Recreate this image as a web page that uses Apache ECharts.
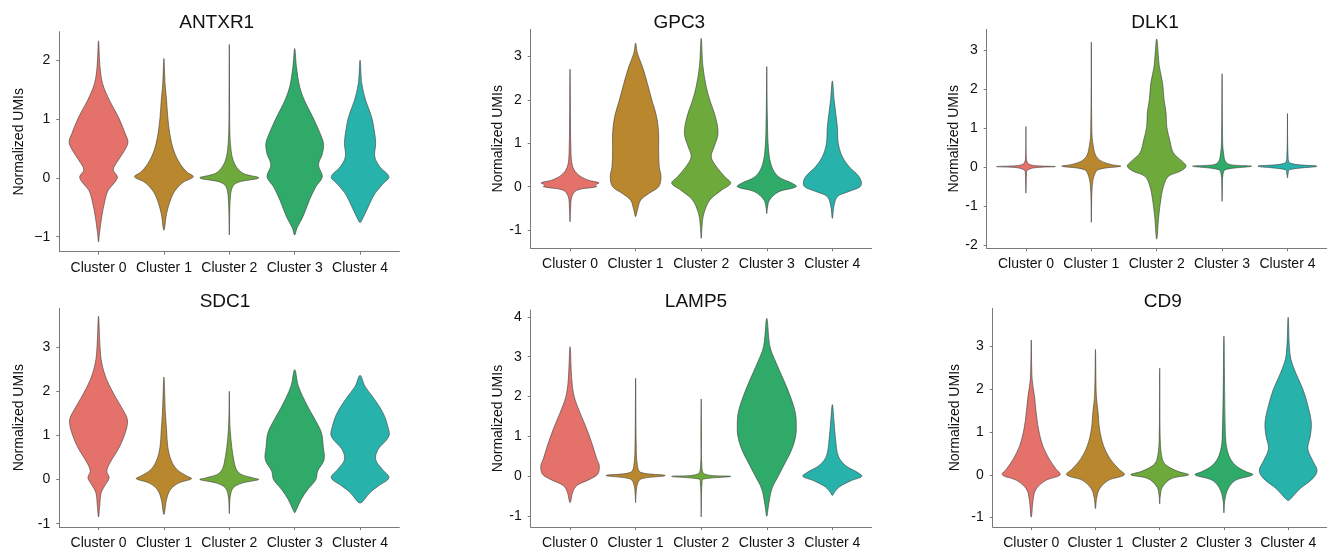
<!DOCTYPE html>
<html><head><meta charset="utf-8">
<script src="https://cdn.jsdelivr.net/npm/echarts@6/dist/echarts.min.js"></script>
<style>html,body{margin:0;padding:0;background:#fff}#c{width:1331px;height:550px}</style>
</head><body><div id="c"></div><script>
// ---------- DATA ----------
const categories = ['Cluster 0', 'Cluster 1', 'Cluster 2', 'Cluster 3', 'Cluster 4'];
const genes = ['ANTXR1', 'GPC3', 'DLK1', 'SDC1', 'LAMP5', 'CD9'];
const xTicks = [0, 1, 2, 3, 4];

// violin profiles: [value (Normalized UMIs), relative density width 0..1]
const antxr1 = [
  [[2.33,0],[1.89,0.05],[1.6,0.14],[1.32,0.37],[1.04,0.67],[0.75,0.91],[0.61,1.0],[0.47,0.89],[0.3,0.67],[0.14,0.5],[0.02,0.64],[-0.07,0.56],[-0.21,0.33],[-0.38,0.22],[-0.66,0.11],[-0.95,0.03],[-1.09,0]],
  [[2.03,0],[1.6,0.04],[1.32,0.09],[1.04,0.13],[0.75,0.2],[0.47,0.33],[0.24,0.55],[0.1,0.78],[0.02,1.0],[-0.07,0.67],[-0.21,0.39],[-0.38,0.22],[-0.61,0.09],[-0.89,0]],
  [[2.27,0],[1.2,0.01],[0.75,0.02],[0.47,0.06],[0.3,0.13],[0.16,0.28],[0.07,0.5],[0.0,1.0],[-0.07,0.33],[-0.15,0.11],[-0.38,0.03],[-0.97,0]],
  [[2.2,0],[1.89,0.06],[1.55,0.17],[1.32,0.33],[1.04,0.61],[0.75,0.87],[0.58,0.98],[0.41,0.94],[0.22,0.81],[0.02,0.94],[-0.15,0.72],[-0.38,0.5],[-0.66,0.28],[-0.85,0.08],[-0.97,0]],
  [[2.0,0],[1.6,0.06],[1.32,0.19],[1.04,0.39],[0.75,0.5],[0.58,0.53],[0.36,0.5],[0.19,0.67],[0.02,0.98],[-0.1,0.78],[-0.27,0.5],[-0.49,0.28],[-0.72,0.06],[-0.76,0]]
];
const gpc3 = [
  [[2.71,0],[2.0,0.01],[0.85,0.03],[0.46,0.09],[0.27,0.29],[0.15,0.63],[0.09,0.98],[0.04,0.86],[0.0,0.9],[-0.08,0.23],[-0.23,0.06],[-0.5,0.02],[-0.81,0]],
  [[3.31,0],[3.08,0.06],[2.77,0.23],[2.38,0.4],[2.0,0.55],[1.62,0.71],[1.23,0.78],[0.85,0.78],[0.46,0.8],[0.23,0.86],[0.0,0.78],[-0.15,0.46],[-0.31,0.17],[-0.54,0.06],[-0.69,0]],
  [[3.42,0],[2.77,0.06],[2.31,0.17],[2.0,0.29],[1.62,0.48],[1.23,0.57],[0.92,0.44],[0.69,0.34],[0.46,0.52],[0.23,0.8],[0.08,1.0],[-0.08,0.69],[-0.31,0.29],[-0.62,0.09],[-0.9,0.03],[-1.19,0]],
  [[2.77,0],[1.62,0.02],[0.85,0.06],[0.46,0.17],[0.23,0.4],[0.08,0.86],[0.0,1.0],[-0.12,0.4],[-0.31,0.09],[-0.5,0.02],[-0.62,0]],
  [[2.44,0],[2.0,0.06],[1.38,0.17],[1.0,0.2],[0.69,0.34],[0.46,0.57],[0.27,0.86],[0.12,0.98],[0.0,0.94],[-0.12,0.52],[-0.23,0.17],[-0.46,0.05],[-0.73,0]]
];
const dlk1 = [
  [[1.04,0],[0.3,0.01],[0.1,0.06],[0.04,0.25],[0.01,1.0],[-0.02,0.3],[-0.08,0.05],[-0.15,0.02],[-0.4,0.01],[-0.67,0]],
  [[3.2,0],[0.87,0.02],[0.44,0.09],[0.27,0.17],[0.15,0.34],[0.06,0.69],[0.02,1.0],[-0.07,0.23],[-0.24,0.09],[-0.5,0.03],[-0.9,0.01],[-1.42,0]],
  [[3.28,0],[2.58,0.09],[2.15,0.2],[1.73,0.25],[1.38,0.32],[1.04,0.34],[0.7,0.44],[0.36,0.57],[0.15,0.86],[0.02,1.0],[-0.11,0.8],[-0.24,0.4],[-0.5,0.23],[-0.84,0.14],[-1.26,0.07],[-1.85,0]],
  [[2.39,0],[0.6,0.02],[0.36,0.05],[0.15,0.11],[0.06,0.28],[0.02,1.0],[-0.07,0.11],[-0.2,0.03],[-0.5,0.01],[-0.88,0]],
  [[1.37,0],[0.3,0.02],[0.1,0.09],[0.02,1.0],[-0.07,0.07],[-0.18,0.02],[-0.28,0]]
];
const sdc1 = [
  [[3.7,0],[3.02,0.05],[2.64,0.11],[2.26,0.28],[1.89,0.56],[1.58,0.83],[1.36,0.98],[1.13,0.94],[0.75,0.72],[0.38,0.39],[0.19,0.28],[0.04,0.36],[-0.11,0.24],[-0.3,0.09],[-0.6,0.04],[-0.85,0]],
  [[2.32,0],[1.51,0.05],[1.13,0.09],[0.75,0.13],[0.45,0.24],[0.23,0.44],[0.08,0.78],[0.02,0.94],[-0.08,0.5],[-0.23,0.22],[-0.45,0.09],[-0.79,0]],
  [[2.0,0],[1.13,0.03],[0.38,0.17],[0.15,0.33],[0.04,0.78],[0.0,1.0],[-0.08,0.44],[-0.19,0.13],[-0.4,0.03],[-0.77,0]],
  [[2.49,0],[2.11,0.13],[1.66,0.44],[1.36,0.69],[1.06,0.91],[0.75,0.97],[0.45,1.0],[0.19,0.78],[0.0,0.72],[-0.23,0.44],[-0.45,0.22],[-0.68,0.06],[-0.75,0]],
  [[2.36,0],[2.11,0.17],[1.81,0.5],[1.51,0.78],[1.21,0.94],[0.98,0.98],[0.68,0.61],[0.45,0.53],[0.23,0.76],[0.04,0.98],[-0.15,0.61],[-0.3,0.33],[-0.49,0.1],[-0.53,0]]
];
const lamp5 = [
  [[3.25,0],[2.42,0.06],[2.0,0.14],[1.59,0.34],[1.18,0.57],[0.76,0.77],[0.43,0.91],[0.27,0.99],[0.06,0.94],[-0.07,0.68],[-0.23,0.23],[-0.4,0.09],[-0.66,0]],
  [[2.46,0],[0.8,0.02],[0.27,0.06],[0.1,0.17],[0.02,1.0],[-0.07,0.17],[-0.23,0.05],[-0.45,0.015],[-0.66,0]],
  [[1.94,0],[0.9,0.01],[0.3,0.02],[0.06,0.11],[0.0,1.0],[-0.07,0.06],[-0.15,0.03],[-0.4,0.012],[-1.02,0]],
  [[3.96,0],[3.25,0.11],[2.84,0.32],[2.42,0.57],[2.0,0.8],[1.59,0.97],[1.26,1.0],[1.01,0.98],[0.68,0.85],[0.35,0.63],[0.02,0.4],[-0.32,0.17],[-0.73,0.06],[-1.0,0]],
  [[1.8,0],[1.34,0.06],[0.93,0.11],[0.51,0.2],[0.27,0.45],[0.1,0.85],[0.0,1.0],[-0.11,0.63],[-0.27,0.23],[-0.4,0.07],[-0.48,0]]
];
const cd9 = [
  [[3.15,0],[2.24,0.03],[1.85,0.11],[1.46,0.17],[1.07,0.25],[0.68,0.4],[0.37,0.62],[0.14,0.85],[0.0,1.0],[-0.13,0.51],[-0.33,0.17],[-0.56,0.07],[-0.99,0]],
  [[2.93,0],[1.85,0.03],[1.46,0.09],[1.07,0.14],[0.68,0.28],[0.37,0.51],[0.14,0.8],[0.0,1.0],[-0.13,0.45],[-0.33,0.14],[-0.55,0.04],[-0.79,0]],
  [[2.49,0],[0.8,0.02],[0.37,0.09],[0.22,0.23],[0.08,0.63],[0.0,1.0],[-0.09,0.4],[-0.29,0.09],[-0.5,0.02],[-0.68,0]],
  [[3.24,0],[0.84,0.06],[0.45,0.17],[0.22,0.4],[0.08,0.74],[0.0,1.0],[-0.13,0.4],[-0.33,0.14],[-0.6,0.03],[-0.89,0]],
  [[3.68,0],[2.79,0.07],[2.4,0.25],[2.0,0.51],[1.62,0.68],[1.23,0.8],[0.92,0.77],[0.61,0.68],[0.33,0.85],[0.1,1.0],[-0.09,0.85],[-0.33,0.4],[-0.56,0.09],[-0.6,0]]
];

// y tick values and labels per gene
const antxr1Ticks = [-1, 0, 1, 2];       const antxr1Labels = ['\u22121', '0', '1', '2'];
const gpc3Ticks = [-1, 0, 1, 2, 3];      const gpc3Labels = ['-1', '0', '1', '2', '3'];
const dlk1Ticks = [-2, -1, 0, 1, 2, 3];  const dlk1Labels = ['-2', '-1', '0', '1', '2', '3'];
const sdc1Ticks = [-1, 0, 1, 2, 3];      const sdc1Labels = ['-1', '0', '1', '2', '3'];
const lamp5Ticks = [-1, 0, 1, 2, 3, 4];  const lamp5Labels = ['-1', '0', '1', '2', '3', '4'];
const cd9Ticks = [-1, 0, 1, 2, 3];       const cd9Labels = ['-1', '0', '1', '2', '3'];

const yName = 'Normalized UMIs';

// ---------- STYLE / LAYOUT ----------
const colors = ['#E4716A', '#B8872E', '#6EA93C', '#2FAA68', '#27B2AC'];
const FONT = '"Liberation Sans", Arial, Helvetica, sans-serif';
const HALF = 0.45;
const panels = [
  {prof: antxr1, ticks: antxr1Ticks, labels: antxr1Labels, yMin: -1.255, yMax: 2.486, left: 59.3, top: 31.7, width: 340, height: 220, tx: 216.7, ty: 13.5, gap: 33},
  {prof: gpc3, ticks: gpc3Ticks, labels: gpc3Labels, yMin: -1.42, yMax: 3.63, left: 530.7, top: 29.3, width: 341, height: 219, tx: 679.3, ty: 13.5, gap: 25},
  {prof: dlk1, ticks: dlk1Ticks, labels: dlk1Labels, yMin: -2.085, yMax: 3.53, left: 986.7, top: 29.3, width: 340, height: 219, tx: 1155, ty: 13.5, gap: 25},
  {prof: sdc1, ticks: sdc1Ticks, labels: sdc1Labels, yMin: -1.075, yMax: 3.88, left: 59.3, top: 308.3, width: 340, height: 219, tx: 225, ty: 292.5, gap: 33},
  {prof: lamp5, ticks: lamp5Ticks, labels: lamp5Labels, yMin: -1.27, yMax: 4.17, left: 530.7, top: 310, width: 341, height: 218.3, tx: 696, ty: 292.5, gap: 25},
  {prof: cd9, ticks: cd9Ticks, labels: cd9Labels, yMin: -1.22, yMax: 3.89, left: 992.7, top: 308.3, width: 334, height: 220, tx: 1162.7, ty: 292.5, gap: 31}
];

const chart = echarts.init(document.getElementById('c'), null, {renderer: 'canvas'});
const axisColor = '#7a7a7a';
const option = {animation: false, backgroundColor: '#fff', title: [], grid: [], xAxis: [], yAxis: [], series: []};

panels.forEach((p, k) => {
  option.title.push({text: genes[k], left: p.tx, top: p.ty, textAlign: 'center', padding: 0,
    textStyle: {fontFamily: FONT, fontSize: 19, fontWeight: 'normal', color: '#111'}});
  option.grid.push({left: p.left, top: p.top, width: p.width, height: p.height, containLabel: false});
  option.xAxis.push({type: 'value', gridIndex: k, min: -0.6, max: 4.6, position: 'bottom',
    axisLine: {show: true, onZero: false, lineStyle: {color: axisColor, width: 1}},
    axisTick: {show: true, customValues: xTicks, length: 3, lineStyle: {color: axisColor}},
    axisLabel: {show: true, customValues: xTicks, margin: 9, fontFamily: FONT, fontSize: 14, color: '#111',
      formatter: v => categories[Math.round(v)]},
    splitLine: {show: false}});
  option.yAxis.push({type: 'value', gridIndex: k, min: p.yMin, max: p.yMax, position: 'left',
    name: yName, nameLocation: 'middle', nameGap: p.gap, nameRotate: 90,
    nameTextStyle: {fontFamily: FONT, fontSize: 14, color: '#111'},
    axisLine: {show: true, onZero: false, lineStyle: {color: axisColor, width: 1}},
    axisTick: {show: true, customValues: p.ticks, length: 3, lineStyle: {color: axisColor}},
    axisLabel: {show: true, customValues: p.ticks, margin: 9, fontFamily: FONT, fontSize: 14, color: '#111',
      formatter: v => p.labels[p.ticks.indexOf(Math.round(v))]},
    splitLine: {show: false}});
  option.series.push({type: 'custom', xAxisIndex: k, yAxisIndex: k,
    data: categories.map((c, i) => [i]),
    renderItem: function (params, api) {
      const ci = api.value(0);
      const prof = p.prof[ci];
      const right = prof.map(d => api.coord([ci + d[1] * HALF, d[0]]));
      const left = prof.slice().reverse().slice(1, -1).map(d => api.coord([ci - d[1] * HALF, d[0]]));
      return {type: 'polygon', shape: {points: right.concat(left), smooth: 0.35},
        style: {fill: colors[ci], stroke: '#3c3c3c', lineWidth: 0.6}};
    }});
});
chart.setOption(option);
</script></body></html>
